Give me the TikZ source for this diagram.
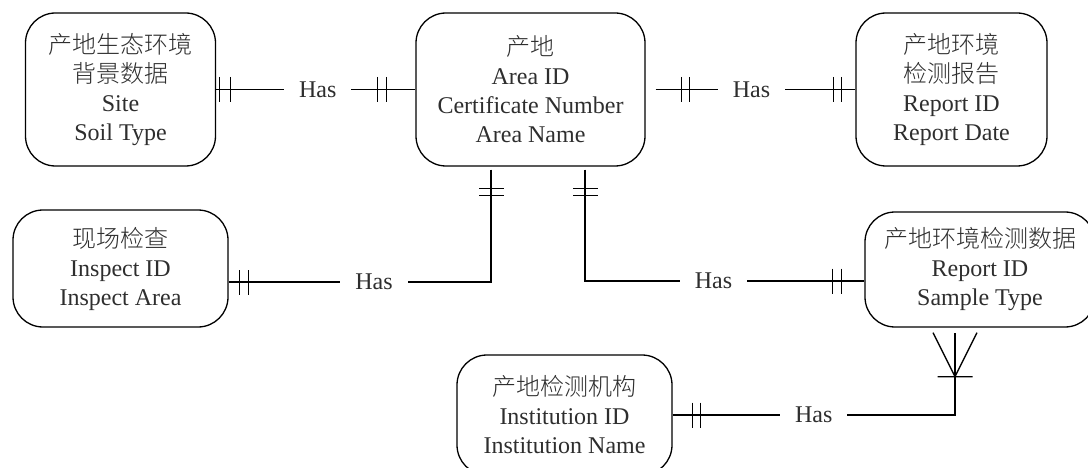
\documentclass[tikz,border=0pt]{standalone}
\usepackage{fontspec}
\setmainfont{Liberation Serif}
\newfontfamily\cjk{Noto Sans CJK SC}[UprightFont={* Light}]
\usetikzlibrary{decorations.markings}
\begin{document}
\begin{tikzpicture}[x=1pt, y=-1pt, line width=1.3pt,
  every node/.style={text=black!82},
  entity/.style={draw=black, rounded corners=30pt, align=center, inner sep=0pt,
    font=\fontsize{24}{29}\selectfont},
  has/.style={fill=white, inner xsep=15pt, inner ysep=3pt,
    font=\fontsize{24}{29}\selectfont},
  onebar/.style={postaction={decorate, decoration={markings,
    mark=at position #1 with {\draw[line width=1.3pt] (0,-12.5) -- (0,12.5);}}}},
  crowfoot/.style={postaction={decorate, decoration={markings,
    mark=at position #1 with {\draw[line width=1.3pt] (0,-17.5) -- (0,17.5)
      (44,-22) -- (0,0) -- (44,22);}}}}
]
\useasboundingbox (0,0) rectangle (1088,468);

% entities
\node[entity, minimum width=190pt, minimum height=153pt] (bg) at (120.5,89.5)
  {{\cjk 产地生态环境}\\{\cjk 背景数据}\\Site\\Soil Type};
\node[entity, minimum width=229pt, minimum height=153pt] (area) at (530.5,89.5)
  {{\cjk 产地}\\Area ID\\Certificate Number\\Area Name};
\node[entity, minimum width=191pt, minimum height=153pt] (rep) at (951.5,89.5)
  {{\cjk 产地环境}\\{\cjk 检测报告}\\Report ID\\Report Date};
\node[entity, minimum width=215pt, minimum height=117pt] (insp) at (120.5,268.5)
  {{\cjk 现场检查}\\Inspect ID\\Inspect Area};
\node[entity, minimum width=230pt, minimum height=115pt] (data) at (980,269.5)
  {{\cjk 产地环境检测数据}\\Report ID\\Sample Type};
\node[entity, minimum width=215pt, minimum height=120pt] (inst) at (564.5,415)
  {{\cjk 产地检测机构}\\Institution ID\\Institution Name};

% relationships
\draw[onebar=3pt, onebar=14pt, onebar=-29pt, onebar=-38pt]
  (bg.east) -- node[has, pos=0.51] {Has} (area.west);
\draw[onebar=26pt, onebar=34pt, onebar=-14pt, onebar=-22pt]
  ([xshift=10pt]area.east) -- node[has, pos=0.48] {Has} (rep.west);
\draw[onebar=19pt, onebar=26pt, onebar=-11pt, onebar=-20pt]
  ([xshift=-39.5pt, yshift=-3pt]area.south) |- node[has, pos=0.723] {Has}
  ([yshift=-13.5pt]insp.east);
\draw[onebar=19pt, onebar=26pt, onebar=-23pt, onebar=-32pt]
  ([xshift=54.5pt, yshift=-3pt]area.south) |- node[has, pos=0.73] {Has}
  ([yshift=-11.5pt]data.west);
\draw[onebar=20pt, onebar=28pt, crowfoot=-44pt]
  (inst.east) -| node[has, pos=0.25] {Has}
  ([xshift=-25pt, yshift=-5pt]data.south);
\end{tikzpicture}
\end{document}
